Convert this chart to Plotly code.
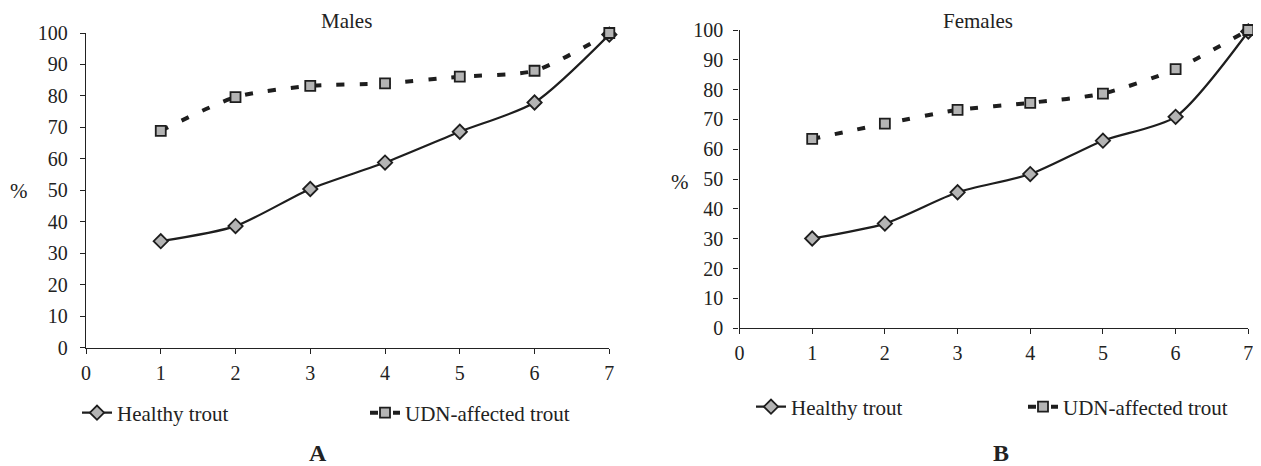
import plotly.graph_objects as go

x_vals = [1, 2, 3, 4, 5, 6, 7]
males_healthy = [33.8, 38.6, 50.4, 58.8, 68.6, 77.9, 99.5]
males_udn = [68.9, 79.6, 83.2, 84.0, 86.1, 88.0, 100.0]
females_healthy = [30.1, 35.1, 45.6, 51.7, 62.9, 70.9, 99.5]
females_udn = [63.5, 68.6, 73.2, 75.6, 78.7, 86.9, 100.0]
series_names = ["Healthy trout", "UDN-affected trout"]
panel_titles = ["Males", "Females"]
panel_letters = ["A", "B"]
x_ticks = [0, 1, 2, 3, 4, 5, 6, 7]
y_ticks = [0, 10, 20, 30, 40, 50, 60, 70, 80, 90, 100]

W, H = 1261, 466
PAGE_OFFSET = 8  # default body margin of the html page
FONT = "Liberation Serif, Times New Roman, Times, DejaVu Serif, serif"
DARK = "#1e1e1e"
GRAY = "#b4b4b4"

fig = go.Figure()

def add_panel(xa, ya, healthy, udn, legend):
    fig.add_trace(go.Scatter(
        x=x_vals, y=healthy, mode="lines+markers", name=series_names[0],
        xaxis=xa, yaxis=ya, legend=legend, cliponaxis=False,
        line=dict(color=DARK, width=2.2, shape="spline", smoothing=0.7),
        marker=dict(symbol="diamond", size=11, color=GRAY, line=dict(color=DARK, width=1.8)),
    ))
    fig.add_trace(go.Scatter(
        x=x_vals, y=udn, mode="lines+markers", name=series_names[1],
        xaxis=xa, yaxis=ya, legend=legend, cliponaxis=False,
        line=dict(color=DARK, width=4, shape="spline", smoothing=0.7, dash="8px,15px"),
        marker=dict(symbol="square", size=10, color=GRAY, line=dict(color=DARK, width=1.8)),
    ))

add_panel("x", "y", males_healthy, males_udn, "legend")
add_panel("x2", "y2", females_healthy, females_udn, "legend2")

def px_x(p):
    return (p - PAGE_OFFSET) / W

def px_y(p):
    return 1 - (p - PAGE_OFFSET) / H

axis_common = dict(
    showline=True, linecolor="#222222", linewidth=1.3, ticks="outside", ticklen=5,
    tickcolor="#222222", tickwidth=1.3, showgrid=False, zeroline=False, automargin=False,
    tickfont=dict(family=FONT, size=20, color="#222222"),
)

fig.update_layout(
    width=W, height=H, paper_bgcolor="white", plot_bgcolor="white", autosize=False,
    margin=dict(l=0, r=0, t=0, b=0, pad=0, autoexpand=False),
    xaxis=dict(domain=[px_x(86), px_x(609.3)], range=[0, 7], tickvals=x_ticks, anchor="y",
               ticklabelstandoff=2, **axis_common),
    yaxis=dict(domain=[px_y(347.5), px_y(33)], range=[0, 100], tickvals=y_ticks, anchor="x",
               ticklabelstandoff=8, **axis_common),
    xaxis2=dict(domain=[px_x(739.5), px_x(1248.3)], range=[0, 7], tickvals=x_ticks, anchor="y2",
                ticklabelstandoff=2, **axis_common),
    yaxis2=dict(domain=[px_y(328.3), px_y(30)], range=[0, 100], tickvals=y_ticks, anchor="x2",
                ticklabelstandoff=6, **axis_common),
    legend=dict(orientation="h", x=px_x(77), y=px_y(413), xanchor="left", yanchor="middle",
                entrywidth=243, entrywidthmode="pixels",
                font=dict(family=FONT, size=21, color="#222222"), bgcolor="rgba(0,0,0,0)"),
    legend2=dict(orientation="h", x=px_x(751), y=px_y(407), xanchor="left", yanchor="middle",
                 entrywidth=227, entrywidthmode="pixels",
                 font=dict(family=FONT, size=21, color="#222222"), bgcolor="rgba(0,0,0,0)"),
    showlegend=True,
)

ann_font = dict(family=FONT, size=21, color="#222222")
fig.add_annotation(text=panel_titles[0], x=px_x(346), y=px_y(20.5), xref="paper", yref="paper",
                   xanchor="center", yanchor="middle", showarrow=False, font=ann_font)
fig.add_annotation(text=panel_titles[1], x=px_x(978), y=px_y(21), xref="paper", yref="paper",
                   xanchor="center", yanchor="middle", showarrow=False, font=ann_font)
fig.add_annotation(text="%", x=px_x(19), y=px_y(191), xref="paper", yref="paper",
                   xanchor="center", yanchor="middle", showarrow=False, font=ann_font)
fig.add_annotation(text="%", x=px_x(680), y=px_y(182), xref="paper", yref="paper",
                   xanchor="center", yanchor="middle", showarrow=False, font=ann_font)
fig.add_annotation(text="<b>%s</b>" % panel_letters[0], x=px_x(318), y=px_y(453), xref="paper", yref="paper",
                   xanchor="center", yanchor="middle", showarrow=False,
                   font=dict(family=FONT, size=24, color="#222222"))
fig.add_annotation(text="<b>%s</b>" % panel_letters[1], x=px_x(1001), y=px_y(453), xref="paper", yref="paper",
                   xanchor="center", yanchor="middle", showarrow=False,
                   font=dict(family=FONT, size=24, color="#222222"))

fig.write_html("out.html")
